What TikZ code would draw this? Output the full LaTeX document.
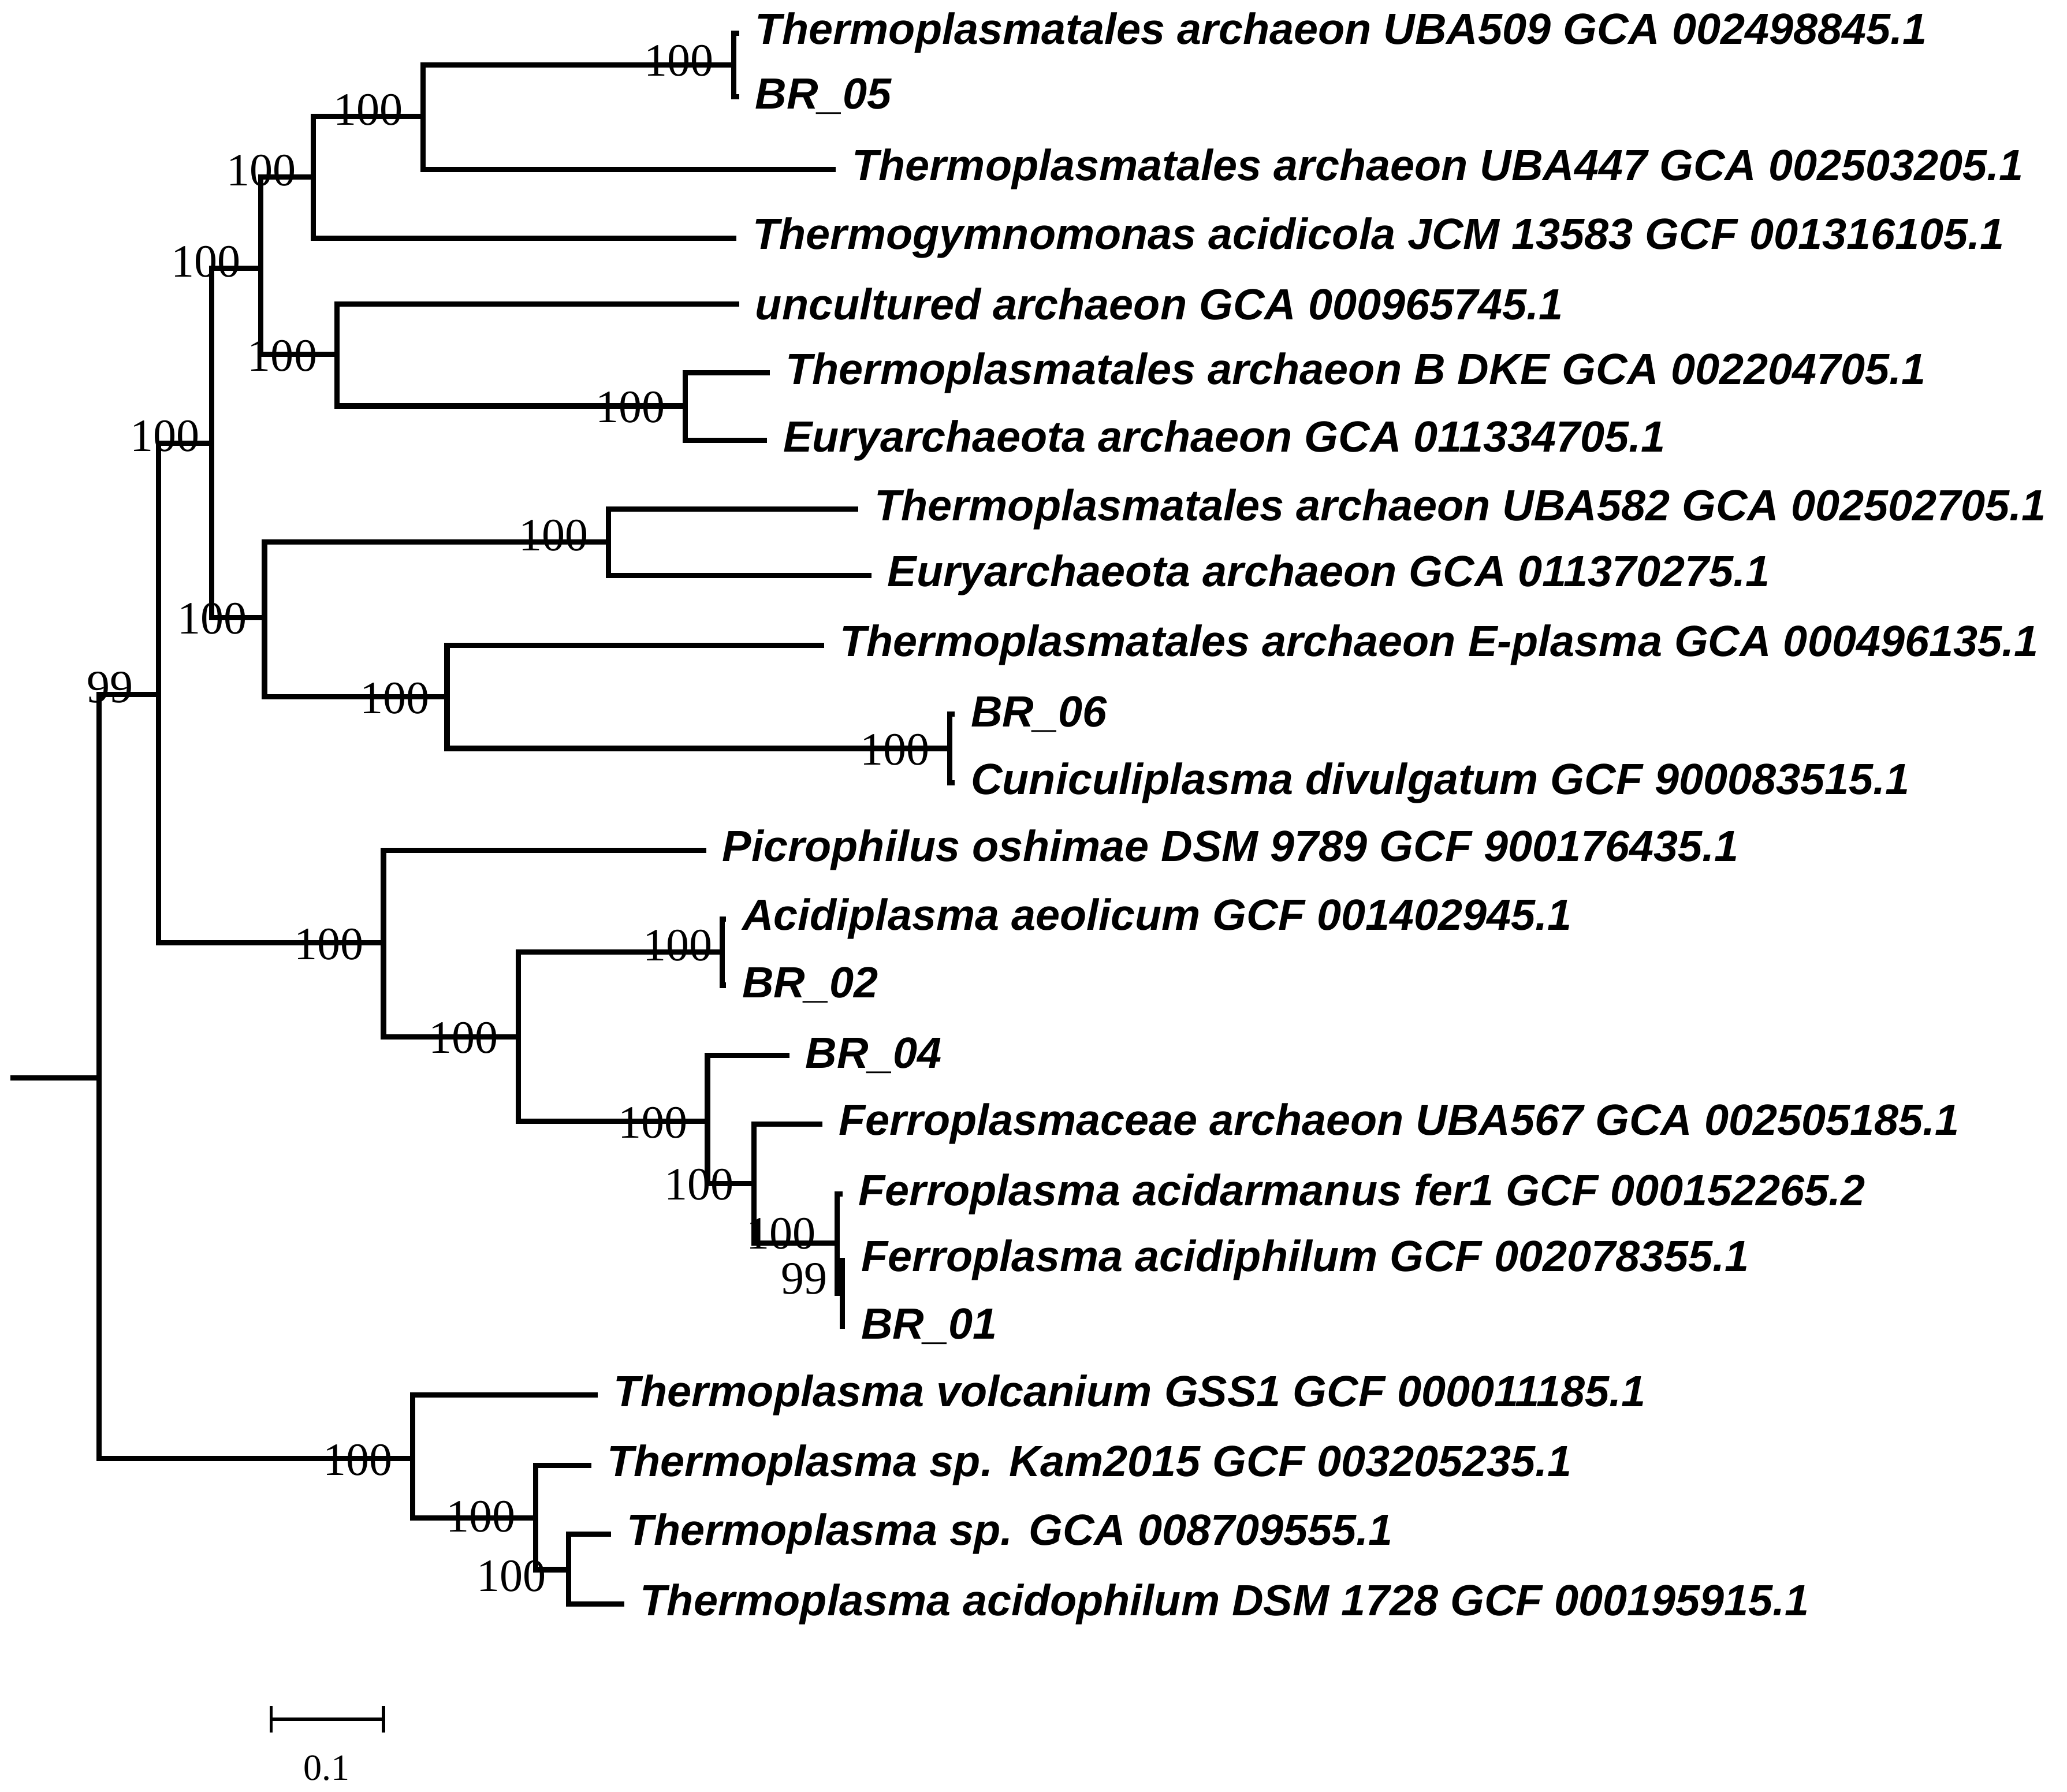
\documentclass[tikz,border=0pt]{standalone}
\usepackage{fontspec}
\setmainfont{Liberation Serif}
\setsansfont{Liberation Sans}
\begin{document}
\begin{tikzpicture}[x=1pt,y=-1pt,
  br/.style={line width=4pt,line cap=rect},
  leaf/.style={anchor=west,inner xsep=14pt,inner ysep=0pt,font=\fontsize{33}{34}\selectfont\sffamily\bfseries\itshape},
  bsa/.style={anchor=south east,inner sep=1pt,font=\fontsize{35}{35}\selectfont},
  bsb/.style={anchor=north east,inner sep=1pt,font=\fontsize{35}{35}\selectfont}]
\useasboundingbox (0,0) rectangle (1563,1355);
% internal nodes
\coordinate (c1) at (555,49);
\coordinate (n1) at (320,88);
\coordinate (n2) at (237,134);
\coordinate (n3) at (197,203);
\coordinate (n5) at (518,307);
\coordinate (n4) at (255,268);
\coordinate (n6) at (160,335);
\coordinate (n8) at (460,410);
\coordinate (c2) at (718,566);
\coordinate (n9) at (338,527);
\coordinate (n7) at (200,467);
\coordinate (n10) at (120,525);
\coordinate (c3) at (546,720);
\coordinate (n16) at (637,978);
\coordinate (n15) at (633,940);
\coordinate (n14) at (570,895);
\coordinate (n13) at (535,848);
\coordinate (n12) at (392,784);
\coordinate (n11) at (290,713);
\coordinate (n20) at (430,1187);
\coordinate (n19) at (405,1148);
\coordinate (n18) at (312,1103);
\coordinate (n17) at (75,815);
\coordinate (r) at (10,815);
% leaves
\node[leaf] (l1) at (557,25) {Thermoplasmatales archaeon UBA509 GCA 002498845.1};
\node[leaf] (l2) at (557,73) {BR\_05};
\node[leaf] (l3) at (630,128) {Thermoplasmatales archaeon UBA447 GCA 002503205.1};
\node[leaf] (l4) at (555,180) {Thermogymnomonas acidicola JCM 13583 GCF 001316105.1};
\node[leaf] (l5) at (557,230) {uncultured archaeon GCA 000965745.1};
\node[leaf] (l6) at (580,282) {Thermoplasmatales archaeon B DKE GCA 002204705.1};
\node[leaf] (l7) at (578,333) {Euryarchaeota archaeon GCA 011334705.1};
\node[leaf] (l8) at (647,385) {Thermoplasmatales archaeon UBA582 GCA 002502705.1};
\node[leaf] (l9) at (657,435) {Euryarchaeota archaeon GCA 011370275.1};
\node[leaf] (l10) at (621,488) {Thermoplasmatales archaeon E-plasma GCA 000496135.1};
\node[leaf] (l11) at (720,540) {BR\_06};
\node[leaf] (l12) at (720,592) {Cuniculiplasma divulgatum GCF 900083515.1};
\node[leaf] (l13) at (532,643) {Picrophilus oshimae DSM 9789 GCF 900176435.1};
\node[leaf] (l14) at (547,695) {Acidiplasma aeolicum GCF 001402945.1};
\node[leaf] (l15) at (547,745) {BR\_02};
\node[leaf] (l16) at (595,798) {BR\_04};
\node[leaf] (l17) at (620,850) {Ferroplasmaceae archaeon UBA567 GCA 002505185.1};
\node[leaf] (l18) at (635,903) {Ferroplasma acidarmanus fer1 GCF 000152265.2};
\node[leaf] (l19) at (637,953) {Ferroplasma acidiphilum GCF 002078355.1};
\node[leaf] (l20) at (637,1003) {BR\_01};
\node[leaf] (l21) at (450,1055) {Thermoplasma volcanium GSS1 GCF 000011185.1};
\node[leaf] (l22) at (445,1108) {Thermoplasma sp. Kam2015 GCF 003205235.1};
\node[leaf] (l23) at (460,1160) {Thermoplasma sp. GCA 008709555.1};
\node[leaf] (l24) at (470,1213) {Thermoplasma acidophilum DSM 1728 GCF 000195915.1};
% branches
\draw[br] (c1) |- (l1.west); \draw[br] (c1) |- (l2.west);
\draw[br] (n1) |- (c1); \draw[br] (n1) |- (l3.west);
\draw[br] (n2) |- (n1); \draw[br] (n2) |- (l4.west);
\draw[br] (n3) |- (n2); \draw[br] (n3) |- (n4);
\draw[br] (n4) |- (l5.west); \draw[br] (n4) |- (n5);
\draw[br] (n5) |- (l6.west); \draw[br] (n5) |- (l7.west);
\draw[br] (n6) |- (n3); \draw[br] (n6) |- (n7);
\draw[br] (n7) |- (n8); \draw[br] (n7) |- (n9);
\draw[br] (n8) |- (l8.west); \draw[br] (n8) |- (l9.west);
\draw[br] (n9) |- (l10.west); \draw[br] (n9) |- (c2);
\draw[br] (c2) |- (l11.west); \draw[br] (c2) |- (l12.west);
\draw[br] (n10) |- (n6); \draw[br] (n10) |- (n11);
\draw[br] (n11) |- (l13.west); \draw[br] (n11) |- (n12);
\draw[br] (n12) |- (c3); \draw[br] (n12) |- (n13);
\draw[br] (c3) |- (l14.west); \draw[br] (c3) |- (l15.west);
\draw[br] (n13) |- (l16.west); \draw[br] (n13) |- (n14);
\draw[br] (n14) |- (l17.west); \draw[br] (n14) |- (n15);
\draw[br] (n15) |- (l18.west); \draw[br] (n15) |- (n16);
\draw[br] (n16) |- (l19.west); \draw[br] (n16) |- (l20.west);
\draw[br] (n17) |- (n10); \draw[br] (n17) |- (n18);
\draw[br] (n18) |- (l21.west); \draw[br] (n18) |- (n19);
\draw[br] (n19) |- (l22.west); \draw[br] (n19) |- (n20);
\draw[br] (n20) |- (l23.west); \draw[br] (n20) |- (l24.west);
\draw[br] (r) -- (n17);
% bootstrap
\node[bsa] at ([xshift=-14,yshift=-10]c1) {100};
\node[bsa] at ([xshift=-14,yshift=-8]n1) {100};
\node[bsa] at ([xshift=-12,yshift=-8]n2) {100};
\node[bsa] at ([xshift=-14,yshift=-8]n3) {100};
\node[bsb] at ([xshift=-14,yshift=12]n4) {100};
\node[bsb] at ([xshift=-14,yshift=12]n5) {100};
\node[bsa] at ([xshift=-8,yshift=-8]n6) {100};
\node[bsb] at ([xshift=-12,yshift=12]n7) {100};
\node[bsa] at ([xshift=-14,yshift=-8]n8) {100};
\node[bsb] at ([xshift=-12,yshift=12]n9) {100};
\node[bsb] at ([xshift=-14,yshift=12]c2) {100};
\node[bsa] at ([xshift=-18,yshift=-8]n10) {99};
\node[bsb] at ([xshift=-14,yshift=12]n11) {100};
\node[bsb] at ([xshift=-14,yshift=12]n12) {100};
\node[bsa] at ([xshift=-6,yshift=-8]c3) {100};
\node[bsb] at ([xshift=-14,yshift=12]n13) {100};
\node[bsb] at ([xshift=-14,yshift=12]n14) {100};
\node[bsb] at ([xshift=-15,yshift=20]n15) {100};
\node[bsb] at ([xshift=-10,yshift=24]n16) {99};
\node[bsb] at ([xshift=-14,yshift=12]n18) {100};
\node[bsb] at ([xshift=-14,yshift=14]n19) {100};
\node[bsb] at ([xshift=-16,yshift=8]n20) {100};
% scale bar
\coordinate (s1) at (205,1300); \coordinate (s2) at (290,1300);
\draw[line width=2.5pt] (s1) -- (s2);
\draw[line width=2.5pt] ([yshift=-10]s1) -- ([yshift=10]s1);
\draw[line width=2.5pt] ([yshift=-10]s2) -- ([yshift=10]s2);
\node[font=\fontsize{28}{28}\selectfont] (sl) at (247,1337) {0.1};
\end{tikzpicture}
\end{document}
